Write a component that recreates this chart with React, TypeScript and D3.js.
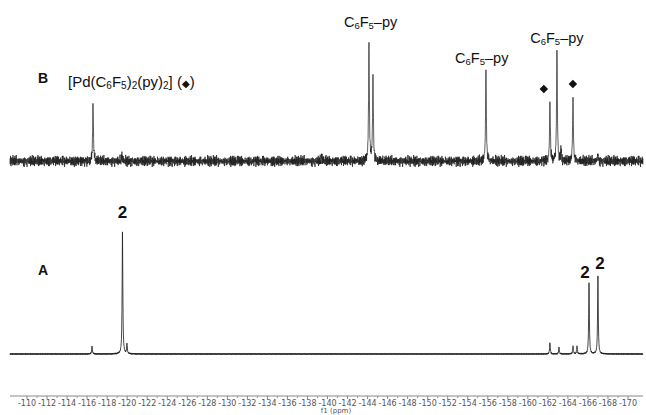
import React from 'react'
import * as d3 from 'd3'

// 19F NMR, two traces: B (top, with [Pd] impurity) and A (bottom, compound 2)
const ppmRange = [-108.3, -171.5]
const majorTicks = [-110, -112, -114, -116, -118, -120, -122, -124, -126, -128, -130, -132, -134, -136, -138, -140,
  -142, -144, -146, -148, -150, -152, -154, -156, -158, -160, -162, -164, -166, -168, -170]

const bPeakPpm = [-116.59, -119.48, -139.45, -144.14, -144.54, -155.82, -162.21, -162.91, -163.31, -164.51, -167.0]
const bPeakHeight = [48, 5, 4, 98, 71, 76, 49, 92, 10, 53, 6]

const aPeakPpm = [-116.49, -119.53, -119.98, -162.21, -163.11, -164.51, -164.91, -166.11, -167.0]
const aPeakHeight = [6.7, 101.7, 8.3, 9.2, 5.8, 6.7, 6.7, 59.2, 65]

// baseline noise, hand-read offsets (px) for each trace
const bNoise = [2, -3, 4, -1, -4, 3, 1, -5, 2, 4, -2, -3, 5, 0, -4, 2, -1, 3, -5, 1, 4, -3, 0, 2, -4, 5, -2, 1, -3, 3,
  -1, 4, -5, 2, 0, -2, 3, -4, 1, 5, -3, 2, -1, -4, 4, 0, -2, 3, -5, 1]
const bNoise2 = [1, -1, 2, 0, -2, 1, -1, 2, -2, 0, 1, -2, 2, -1, 0, 1, -2, 1, 0, -1, 2, -1, -2]
const aNoise = [0.4, -0.6, 0.8, -0.3, 0.2, -0.8, 0.5, 0, -0.4, 0.7, -0.7, 0.3, -0.2, 0.6, -0.5, 0.1, 0.8, -0.6, 0.2, -0.3]

const W = 646
const H = 415
const font = 'Liberation Sans, Arial, Helvetica, sans-serif'
const axisFont = 'DejaVu Sans, Verdana, sans-serif'

function buildTrace(ppms: number[], heights: number[], noise: (i: number) => number, width: number) {
  const step = 0.025
  const pts: [number, number][] = []
  const n = Math.round((ppmRange[0] - ppmRange[1]) / step)
  for (let i = 0; i <= n; i++) pts.push([ppmRange[0] - i * step, i])
  ppms.forEach(p => pts.push([p, -1]))
  pts.sort((a, b) => b[0] - a[0])
  return pts.map(([ppm, i]) => {
    let v = 0
    ppms.forEach((p, k) => {
      const d = (ppm - p) / width
      v += heights[k] / (1 + d * d)
    })
    return { ppm, v, nz: i >= 0 ? noise(i) : 0 }
  })
}

export default function App() {
  const x = d3.scaleLinear().domain(ppmRange).range([10, 643])
  const yB = d3.scaleLinear().domain([0, 100]).range([161, 41])
  const yA = d3.scaleLinear().domain([0, 100]).range([354, 234])

  const traceB = buildTrace(bPeakPpm, bPeakHeight, i => 0.85 * (bNoise[i % bNoise.length] + bNoise2[i % bNoise2.length]), 0.045)
  const traceA = buildTrace(aPeakPpm, aPeakHeight, i => aNoise[i % aNoise.length], 0.04)

  const lineB = d3.line<{ ppm: number; v: number; nz: number }>()
    .x(d => x(d.ppm))
    .y(d => yB(d.v) - d.nz)
  const lineA = d3.line<{ ppm: number; v: number; nz: number }>()
    .x(d => x(d.ppm))
    .y(d => yA(d.v) - d.nz)

  const minorTicks = majorTicks.slice(0, -1).map(t => t - 1)
  const diamond = d3.symbol().type(d3.symbolSquare).size(36)()

  const pyLabel = (cx: number, y: number, key: string) => (
    <text key={key} x={cx} y={y} textAnchor="middle" fontSize={14.5} fontFamily={font} fill="#111">
      C<tspan fontSize={9.5} dy={1.5}>6</tspan><tspan dy={-1.5}>F</tspan><tspan fontSize={9.5} dy={1.5}>5</tspan>
      <tspan dy={-1.5}>–py</tspan>
    </text>
  )

  return (
    <div style={{ position: 'fixed', left: 0, top: 0 }}>
      <svg width={W} height={H} style={{ display: 'block', background: '#fff' }}>
        <path d={lineB(traceB) || ''} fill="none" stroke="#1a1a1a" strokeWidth={0.7} />
        <path d={lineA(traceA) || ''} fill="none" stroke="#1a1a1a" strokeWidth={0.8} />

        {/* axis */}
        <g>
          <line x1={10} x2={643} y1={396} y2={396} stroke="#888" strokeWidth={1} />
          {majorTicks.map(t => (
            <g key={t} transform={`translate(${x(t)},396)`}>
              <line y1={0} y2={3} stroke="#888" />
              <text y={10} textAnchor="middle" fontSize={8} fontFamily={axisFont} fill="#555">{t}</text>
            </g>
          ))}
          {minorTicks.map(t => (
            <line key={t} x1={x(t)} x2={x(t)} y1={396} y2={398} stroke="#999" />
          ))}
          <text x={336} y={412.5} textAnchor="middle" fontSize={7} fontFamily={axisFont} fill="#555">f1 (ppm)</text>
        </g>

        {/* trace labels */}
        <text x={43} y={83} textAnchor="middle" fontSize={14} fontWeight="bold" fontFamily={font} fill="#111">B</text>
        <text x={43} y={275} textAnchor="middle" fontSize={14} fontWeight="bold" fontFamily={font} fill="#111">A</text>

        <text x={68} y={87} fontSize={15} fontFamily={font} fill="#111">
          [Pd(C<tspan fontSize={10} dy={1.5}>6</tspan><tspan dy={-1.5}>F</tspan><tspan fontSize={10} dy={1.5}>5</tspan>
          <tspan dy={-1.5}>)</tspan><tspan fontSize={10} dy={1.5}>2</tspan><tspan dy={-1.5}>(py)</tspan>
          <tspan fontSize={10} dy={1.5}>2</tspan><tspan dy={-1.5}>] (</tspan><tspan fontSize={10} fontFamily="DejaVu Sans">◆</tspan>)
        </text>

        {pyLabel(x(-144.3), 27, 'p1')}
        {pyLabel(x(-155.4), 63, 'p2')}
        {pyLabel(x(-162.9), 43, 'p3')}

        <path d={diamond} transform={`translate(${x(-161.6)},89) rotate(45)`} fill="#111" />
        <path d={diamond} transform={`translate(${x(-164.5)},84) rotate(45)`} fill="#111" />

        <text x={x(-119.53)} y={218} textAnchor="middle" fontSize={17} fontWeight="bold" fontFamily={font} fill="#111">2</text>
        <text x={x(-165.7)} y={278} textAnchor="middle" fontSize={17} fontWeight="bold" fontFamily={font} fill="#111">2</text>
        <text x={x(-167.2)} y={269} textAnchor="middle" fontSize={17} fontWeight="bold" fontFamily={font} fill="#111">2</text>
      </svg>
    </div>
  )
}
